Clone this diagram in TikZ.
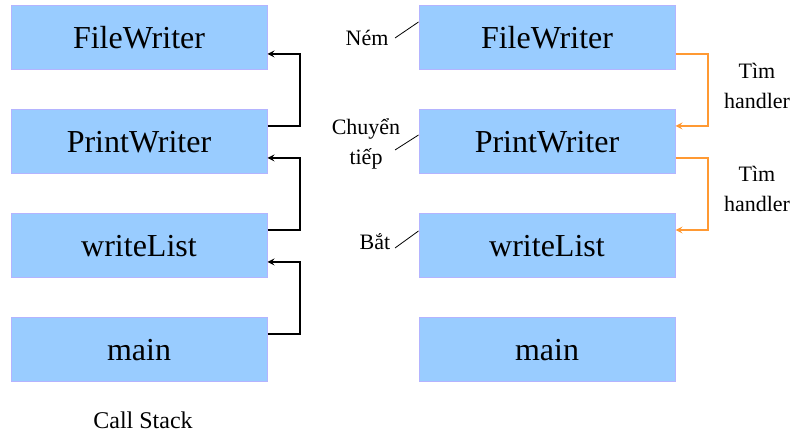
\documentclass[tikz,border=0pt]{standalone}
\usepackage{fontspec}
\setmainfont{LiberationSerif}[Extension=.ttf,UprightFont=*-Regular,BoldFont=*-Bold]
\tikzset{>=stealth}
\definecolor{boxFill}{RGB}{153,204,255}
\definecolor{boxLine}{RGB}{180,180,255}
\definecolor{findColor}{RGB}{255,153,51}
\tikzset{
  frame/.style={draw=boxLine,fill=boxFill,line width=1pt,minimum width=256pt,minimum height=64pt,inner sep=0pt,font=\fontsize{32}{36}\selectfont},
  side/.style={inner sep=0pt,align=center,font=\fontsize{22}{30}\selectfont},
  call/.style={->,line width=2pt,black},
  find/.style={->,line width=2pt,findColor}
}

\begin{document}
\begin{tikzpicture}[x=1pt,y=-1pt]
\useasboundingbox (0,0) rectangle (801,435);
% call stack, left
\node[frame] (l1) at (139,38) {FileWriter};
\node[frame] (l2) at (139,142) {PrintWriter};
\node[frame] (l3) at (139,246) {writeList};
\node[frame] (l4) at (139,350) {main};
\node[inner sep=0pt,font=\fontsize{24}{28}\selectfont] (cs) at (143,420) {Call Stack};
\draw[call] ([yshift=16pt]l2.east) -- ++(32,0) |- ([yshift=-16pt]l1.east);
\draw[call] ([yshift=16pt]l3.east) -- ++(32,0) |- ([yshift=-16pt]l2.east);
\draw[call] ([yshift=16pt]l4.east) -- ++(32,0) |- ([yshift=-16pt]l3.east);
% exception path, right
\node[frame] (r1) at (547,38) {FileWriter};
\node[frame] (r2) at (547,142) {PrintWriter};
\node[frame] (r3) at (547,246) {writeList};
\node[frame] (r4) at (547,350) {main};
\draw[find] ([yshift=-16pt]r1.east) -- ++(32,0) |- ([yshift=16pt]r2.east);
\draw[find] ([yshift=-16pt]r2.east) -- ++(32,0) |- ([yshift=16pt]r3.east);
\node[side] (t1) at (757,86) {Tìm\\handler};
\node[side] (t2) at (757,189) {Tìm\\handler};
% labels on the left of the boxes
\node[side] (nem) at (367,38) {Ném};
\node[side] (chuyen) at (366,144) {Chuyển\\tiếp};
\node[side] (bat) at (375,242) {Bắt};
\coordinate (nemEnd) at (395,38);
\coordinate (chuyenEnd) at (395,150);
\coordinate (batEnd) at (395,248);
\draw[line width=0.8pt] (nemEnd) -- ([yshift=16pt]r1.west);
\draw[line width=0.8pt] (chuyenEnd) -- ([yshift=7pt]r2.west);
\draw[line width=0.8pt] (batEnd) -- ([yshift=15pt]r3.west);
\end{tikzpicture}
\end{document}
